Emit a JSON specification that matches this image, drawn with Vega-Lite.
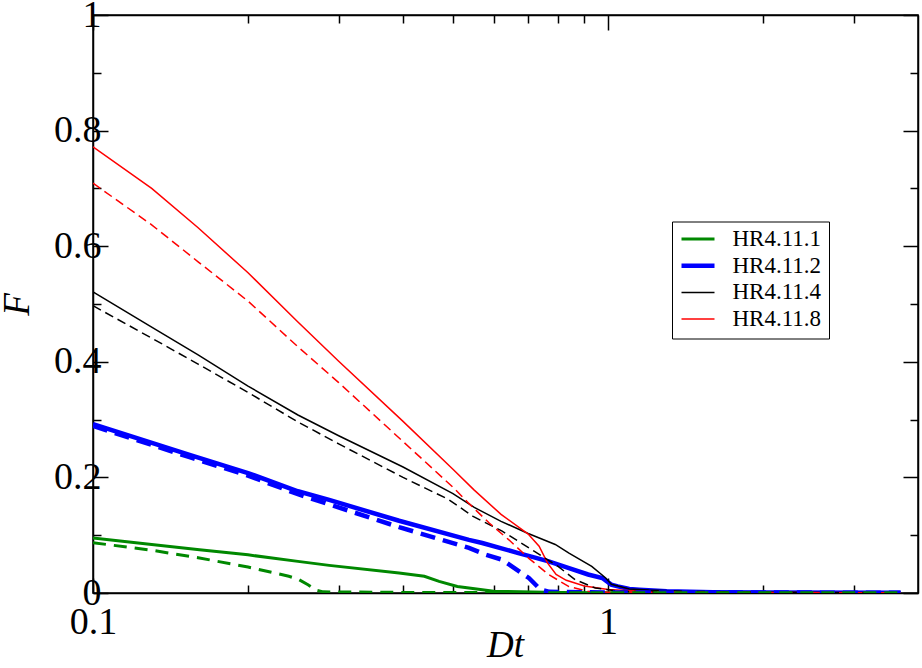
{
  "$schema": "https://vega.github.io/schema/vega-lite/v6.json",
  "width": 825,
  "height": 578,
  "autosize": {"type": "none"},
  "padding": {"left": 93, "top": 15, "right": 4, "bottom": 75},
  "background": "white",
  "config": {
    "view": {"stroke": "black", "strokeWidth": 1.5},
    "font": "Liberation Serif",
    "axis": {
      "domainColor": "black", "domainWidth": 1.5,
      "tickColor": "black", "tickWidth": 1.5,
      "grid": false,
      "labelFont": "Liberation Serif", "labelFontSize": 38, "labelColor": "black",
      "titleFont": "Liberation Serif", "titleFontSize": 37, "titleFontStyle": "italic",
      "titleFontWeight": "normal", "titleColor": "black",
      "labelFlush": false, "labelOverlap": false
    },
    "legend": {
      "orient": "none", "legendX": 579, "legendY": 206.5,
      "strokeColor": "black", "fillColor": "white", "padding": 7,
      "labelFont": "Liberation Serif", "labelFontSize": 23, "labelColor": "black",
      "symbolType": "stroke", "symbolSize": 1089, "labelOffset": 15.5,
      "clipHeight": 21, "rowPadding": 2.7
    }
  },
  "data": {"values": [
    {"series":"HR4.11.1","style":"solid","Dt":0.1,"F":0.095},
    {"series":"HR4.11.1","style":"solid","Dt":0.13,"F":0.084},
    {"series":"HR4.11.1","style":"solid","Dt":0.161,"F":0.075},
    {"series":"HR4.11.1","style":"solid","Dt":0.2,"F":0.066},
    {"series":"HR4.11.1","style":"solid","Dt":0.25,"F":0.0547},
    {"series":"HR4.11.1","style":"solid","Dt":0.2875,"F":0.0478},
    {"series":"HR4.11.1","style":"solid","Dt":0.393,"F":0.0346},
    {"series":"HR4.11.1","style":"solid","Dt":0.44,"F":0.029},
    {"series":"HR4.11.1","style":"solid","Dt":0.47,"F":0.02},
    {"series":"HR4.11.1","style":"solid","Dt":0.51,"F":0.0114},
    {"series":"HR4.11.1","style":"solid","Dt":0.537,"F":0.0086},
    {"series":"HR4.11.1","style":"solid","Dt":0.6,"F":0.003},
    {"series":"HR4.11.1","style":"solid","Dt":0.8,"F":0.001},
    {"series":"HR4.11.1","style":"solid","Dt":1.0,"F":0.0005},
    {"series":"HR4.11.1","style":"solid","Dt":3.7,"F":0.0003},
    {"series":"HR4.11.1","style":"dashed","Dt":0.1,"F":0.087},
    {"series":"HR4.11.1","style":"dashed","Dt":0.13,"F":0.074},
    {"series":"HR4.11.1","style":"dashed","Dt":0.16,"F":0.061},
    {"series":"HR4.11.1","style":"dashed","Dt":0.2,"F":0.045},
    {"series":"HR4.11.1","style":"dashed","Dt":0.24,"F":0.029},
    {"series":"HR4.11.1","style":"dashed","Dt":0.25,"F":0.024},
    {"series":"HR4.11.1","style":"dashed","Dt":0.262,"F":0.014},
    {"series":"HR4.11.1","style":"dashed","Dt":0.271,"F":0.005},
    {"series":"HR4.11.1","style":"dashed","Dt":0.28,"F":0.002},
    {"series":"HR4.11.1","style":"dashed","Dt":0.4,"F":0.001},
    {"series":"HR4.11.1","style":"dashed","Dt":1.0,"F":0.0005},
    {"series":"HR4.11.1","style":"dashed","Dt":3.7,"F":0.0003},
    {"series":"HR4.11.2","style":"solid","Dt":0.1,"F":0.292},
    {"series":"HR4.11.2","style":"solid","Dt":0.154,"F":0.239},
    {"series":"HR4.11.2","style":"solid","Dt":0.2,"F":0.2075},
    {"series":"HR4.11.2","style":"solid","Dt":0.25,"F":0.176},
    {"series":"HR4.11.2","style":"solid","Dt":0.2875,"F":0.161},
    {"series":"HR4.11.2","style":"solid","Dt":0.393,"F":0.125},
    {"series":"HR4.11.2","style":"solid","Dt":0.537,"F":0.092},
    {"series":"HR4.11.2","style":"solid","Dt":0.57,"F":0.0865},
    {"series":"HR4.11.2","style":"solid","Dt":0.67,"F":0.069},
    {"series":"HR4.11.2","style":"solid","Dt":0.71,"F":0.063},
    {"series":"HR4.11.2","style":"solid","Dt":0.767,"F":0.0547},
    {"series":"HR4.11.2","style":"solid","Dt":0.84,"F":0.043},
    {"series":"HR4.11.2","style":"solid","Dt":0.915,"F":0.032},
    {"series":"HR4.11.2","style":"solid","Dt":0.975,"F":0.026},
    {"series":"HR4.11.2","style":"solid","Dt":1.015,"F":0.0144},
    {"series":"HR4.11.2","style":"solid","Dt":1.045,"F":0.0114},
    {"series":"HR4.11.2","style":"solid","Dt":1.1,"F":0.0069},
    {"series":"HR4.11.2","style":"solid","Dt":1.15,"F":0.0057},
    {"series":"HR4.11.2","style":"solid","Dt":1.3,"F":0.003},
    {"series":"HR4.11.2","style":"solid","Dt":1.6,"F":0.0015},
    {"series":"HR4.11.2","style":"solid","Dt":2.0,"F":0.001},
    {"series":"HR4.11.2","style":"solid","Dt":3.7,"F":0.0005},
    {"series":"HR4.11.2","style":"dashed","Dt":0.1,"F":0.289},
    {"series":"HR4.11.2","style":"dashed","Dt":0.154,"F":0.235},
    {"series":"HR4.11.2","style":"dashed","Dt":0.2,"F":0.203},
    {"series":"HR4.11.2","style":"dashed","Dt":0.25,"F":0.171},
    {"series":"HR4.11.2","style":"dashed","Dt":0.393,"F":0.114},
    {"series":"HR4.11.2","style":"dashed","Dt":0.537,"F":0.078},
    {"series":"HR4.11.2","style":"dashed","Dt":0.58,"F":0.066},
    {"series":"HR4.11.2","style":"dashed","Dt":0.623,"F":0.0576},
    {"series":"HR4.11.2","style":"dashed","Dt":0.702,"F":0.026},
    {"series":"HR4.11.2","style":"dashed","Dt":0.74,"F":0.0057},
    {"series":"HR4.11.2","style":"dashed","Dt":0.77,"F":0.002},
    {"series":"HR4.11.2","style":"dashed","Dt":1.0,"F":0.001},
    {"series":"HR4.11.2","style":"dashed","Dt":3.7,"F":0.0005},
    {"series":"HR4.11.4","style":"solid","Dt":0.1,"F":0.521},
    {"series":"HR4.11.4","style":"solid","Dt":0.13,"F":0.46},
    {"series":"HR4.11.4","style":"solid","Dt":0.16,"F":0.412},
    {"series":"HR4.11.4","style":"solid","Dt":0.2,"F":0.358},
    {"series":"HR4.11.4","style":"solid","Dt":0.25,"F":0.308},
    {"series":"HR4.11.4","style":"solid","Dt":0.3,"F":0.272},
    {"series":"HR4.11.4","style":"solid","Dt":0.4,"F":0.218},
    {"series":"HR4.11.4","style":"solid","Dt":0.5,"F":0.172},
    {"series":"HR4.11.4","style":"solid","Dt":0.55,"F":0.148},
    {"series":"HR4.11.4","style":"solid","Dt":0.62,"F":0.124},
    {"series":"HR4.11.4","style":"solid","Dt":0.7,"F":0.103},
    {"series":"HR4.11.4","style":"solid","Dt":0.79,"F":0.084},
    {"series":"HR4.11.4","style":"solid","Dt":0.84,"F":0.069},
    {"series":"HR4.11.4","style":"solid","Dt":0.93,"F":0.046},
    {"series":"HR4.11.4","style":"solid","Dt":0.99,"F":0.026},
    {"series":"HR4.11.4","style":"solid","Dt":1.015,"F":0.015},
    {"series":"HR4.11.4","style":"solid","Dt":1.1,"F":0.007},
    {"series":"HR4.11.4","style":"solid","Dt":1.2,"F":0.005},
    {"series":"HR4.11.4","style":"solid","Dt":1.4,"F":0.003},
    {"series":"HR4.11.4","style":"solid","Dt":2.0,"F":0.0015},
    {"series":"HR4.11.4","style":"solid","Dt":3.7,"F":0.0005},
    {"series":"HR4.11.4","style":"dashed","Dt":0.1,"F":0.497},
    {"series":"HR4.11.4","style":"dashed","Dt":0.13,"F":0.441},
    {"series":"HR4.11.4","style":"dashed","Dt":0.16,"F":0.396},
    {"series":"HR4.11.4","style":"dashed","Dt":0.2,"F":0.347},
    {"series":"HR4.11.4","style":"dashed","Dt":0.25,"F":0.296},
    {"series":"HR4.11.4","style":"dashed","Dt":0.3,"F":0.258},
    {"series":"HR4.11.4","style":"dashed","Dt":0.4,"F":0.2},
    {"series":"HR4.11.4","style":"dashed","Dt":0.49,"F":0.162},
    {"series":"HR4.11.4","style":"dashed","Dt":0.546,"F":0.133},
    {"series":"HR4.11.4","style":"dashed","Dt":0.623,"F":0.107},
    {"series":"HR4.11.4","style":"dashed","Dt":0.72,"F":0.072},
    {"series":"HR4.11.4","style":"dashed","Dt":0.8,"F":0.046},
    {"series":"HR4.11.4","style":"dashed","Dt":0.864,"F":0.023},
    {"series":"HR4.11.4","style":"dashed","Dt":0.945,"F":0.0086},
    {"series":"HR4.11.4","style":"dashed","Dt":1.05,"F":0.003},
    {"series":"HR4.11.4","style":"dashed","Dt":1.3,"F":0.0015},
    {"series":"HR4.11.4","style":"dashed","Dt":2.0,"F":0.0008},
    {"series":"HR4.11.4","style":"dashed","Dt":3.7,"F":0.0004},
    {"series":"HR4.11.8","style":"solid","Dt":0.1,"F":0.772},
    {"series":"HR4.11.8","style":"solid","Dt":0.13,"F":0.7},
    {"series":"HR4.11.8","style":"solid","Dt":0.16,"F":0.632},
    {"series":"HR4.11.8","style":"solid","Dt":0.2,"F":0.554},
    {"series":"HR4.11.8","style":"solid","Dt":0.25,"F":0.469},
    {"series":"HR4.11.8","style":"solid","Dt":0.3,"F":0.401},
    {"series":"HR4.11.8","style":"solid","Dt":0.4,"F":0.297},
    {"series":"HR4.11.8","style":"solid","Dt":0.5,"F":0.214},
    {"series":"HR4.11.8","style":"solid","Dt":0.55,"F":0.178},
    {"series":"HR4.11.8","style":"solid","Dt":0.62,"F":0.136},
    {"series":"HR4.11.8","style":"solid","Dt":0.7,"F":0.102},
    {"series":"HR4.11.8","style":"solid","Dt":0.735,"F":0.081},
    {"series":"HR4.11.8","style":"solid","Dt":0.763,"F":0.052},
    {"series":"HR4.11.8","style":"solid","Dt":0.793,"F":0.032},
    {"series":"HR4.11.8","style":"solid","Dt":0.83,"F":0.022},
    {"series":"HR4.11.8","style":"solid","Dt":0.9,"F":0.012},
    {"series":"HR4.11.8","style":"solid","Dt":1.0,"F":0.006},
    {"series":"HR4.11.8","style":"solid","Dt":1.2,"F":0.002},
    {"series":"HR4.11.8","style":"solid","Dt":1.6,"F":0.001},
    {"series":"HR4.11.8","style":"solid","Dt":3.7,"F":0.0003},
    {"series":"HR4.11.8","style":"dashed","Dt":0.1,"F":0.709},
    {"series":"HR4.11.8","style":"dashed","Dt":0.13,"F":0.637},
    {"series":"HR4.11.8","style":"dashed","Dt":0.16,"F":0.573},
    {"series":"HR4.11.8","style":"dashed","Dt":0.2,"F":0.505},
    {"series":"HR4.11.8","style":"dashed","Dt":0.25,"F":0.426},
    {"series":"HR4.11.8","style":"dashed","Dt":0.3,"F":0.364},
    {"series":"HR4.11.8","style":"dashed","Dt":0.4,"F":0.262},
    {"series":"HR4.11.8","style":"dashed","Dt":0.5,"F":0.183},
    {"series":"HR4.11.8","style":"dashed","Dt":0.537,"F":0.155},
    {"series":"HR4.11.8","style":"dashed","Dt":0.588,"F":0.121},
    {"series":"HR4.11.8","style":"dashed","Dt":0.642,"F":0.092},
    {"series":"HR4.11.8","style":"dashed","Dt":0.702,"F":0.06},
    {"series":"HR4.11.8","style":"dashed","Dt":0.767,"F":0.032},
    {"series":"HR4.11.8","style":"dashed","Dt":0.84,"F":0.011},
    {"series":"HR4.11.8","style":"dashed","Dt":0.915,"F":0.003},
    {"series":"HR4.11.8","style":"dashed","Dt":1.0,"F":0.0015},
    {"series":"HR4.11.8","style":"dashed","Dt":1.5,"F":0.0007},
    {"series":"HR4.11.8","style":"dashed","Dt":3.7,"F":0.0003}
  ]},
  "resolve": {"axis": {"x": "independent", "y": "independent"}},
  "layer": [
    {
      "transform": [{"filter": "datum.style === 'solid'"}],
      "mark": {"type": "line", "clip": true},
      "encoding": {
        "x": {"field": "Dt", "type": "quantitative",
          "scale": {"type": "log", "domain": [0.1, 4], "nice": false},
          "axis": {
            "orient": "bottom", "title": "Dt",
            "labelFont": "Liberation Serif", "labelFontSize": 38,
            "titleFont": "Liberation Serif", "titleFontSize": 37, "titleFontStyle": "italic", "titleFontWeight": "normal",
            "values": [0.1,0.2,0.3,0.4,0.5,0.6,0.7,0.8,0.9,1,2,3],
            "labelExpr": "datum.value == 0.1 ? '0.1' : (datum.value == 1 ? '1' : '')",
            "tickSize": {"condition": {"test": "datum.value == 0.1 || datum.value == 1", "value": -15}, "value": -8},
            "labelPadding": 25,
            "titleX": 412, "titleY": 63, "titleBaseline": "alphabetic", "titleAlign": "center"
          }},
        "y": {"field": "F", "type": "quantitative",
          "scale": {"domain": [0, 1], "nice": false},
          "axis": {
            "orient": "left", "title": "F",
            "labelFont": "Liberation Serif", "labelFontSize": 38,
            "titleFont": "Liberation Serif", "titleFontSize": 37, "titleFontStyle": "italic", "titleFontWeight": "normal",
            "values": [0,0.1,0.2,0.3,0.4,0.5,0.6,0.7,0.8,0.9,1],
            "labelExpr": "round(datum.value*10) % 2 == 0 ? format(datum.value, '~g') : ''",
            "tickSize": {"condition": {"test": "round(datum.value*10) % 2 == 0", "value": -15}, "value": -8},
            "labelPadding": 7,
            "titleX": -65, "titleY": 289, "titleBaseline": "alphabetic", "titleAlign": "center", "titleAngle": -90
          }},
        "color": {"field": "series", "type": "nominal",
          "scale": {"domain": ["HR4.11.1","HR4.11.2","HR4.11.4","HR4.11.8"], "range": ["#008800","#0000ff","#000000","#ff0000"]},
          "legend": {"title": null}},
        "strokeWidth": {"field": "series", "type": "nominal",
          "scale": {"type": "ordinal", "domain": ["HR4.11.1","HR4.11.2","HR4.11.4","HR4.11.8"], "range": [3, 4.5, 1.5, 1.5]},
          "legend": {"title": null}}
      }
    },
    {
      "transform": [{"filter": "datum.style === 'dashed' && (datum.series === 'HR4.11.4' || datum.series === 'HR4.11.8')"}],
      "mark": {"type": "line", "strokeDash": [9, 5], "strokeWidth": 1.5, "clip": true},
      "encoding": {
        "x": {"field": "Dt", "type": "quantitative", "axis": null},
        "y": {"field": "F", "type": "quantitative", "axis": null},
        "color": {"field": "series", "type": "nominal"}
      }
    },
    {
      "transform": [{"filter": "datum.style === 'dashed' && datum.series === 'HR4.11.2'"}],
      "mark": {"type": "line", "strokeDash": [15, 8], "strokeWidth": 4.5, "clip": true},
      "encoding": {
        "x": {"field": "Dt", "type": "quantitative", "axis": null},
        "y": {"field": "F", "type": "quantitative", "axis": null},
        "color": {"field": "series", "type": "nominal"}
      }
    },
    {
      "transform": [{"filter": "datum.style === 'dashed' && datum.series === 'HR4.11.1'"}],
      "mark": {"type": "line", "strokeDash": [13, 8], "strokeWidth": 3, "clip": true},
      "encoding": {
        "x": {"field": "Dt", "type": "quantitative", "axis": null},
        "y": {"field": "F", "type": "quantitative", "axis": null},
        "color": {"field": "series", "type": "nominal"}
      }
    },
    {
      "transform": [{"filter": "datum.style === 'solid' && datum.series === 'HR4.11.8'"}],
      "mark": {"type": "line", "opacity": 0},
      "encoding": {
        "x": {"field": "Dt", "type": "quantitative",
          "axis": {
            "orient": "top", "title": null, "labels": false,
            "values": [0.1,0.2,0.3,0.4,0.5,0.6,0.7,0.8,0.9,1,2,3],
            "tickSize": {"condition": {"test": "datum.value == 0.1 || datum.value == 1", "value": -15}, "value": -8}
          }},
        "y": {"field": "F", "type": "quantitative",
          "axis": {
            "orient": "right", "title": null, "labels": false,
            "values": [0,0.1,0.2,0.3,0.4,0.5,0.6,0.7,0.8,0.9,1],
            "tickSize": {"condition": {"test": "round(datum.value*10) % 2 == 0", "value": -15}, "value": -8}
          }}
      }
    }
  ]
}
